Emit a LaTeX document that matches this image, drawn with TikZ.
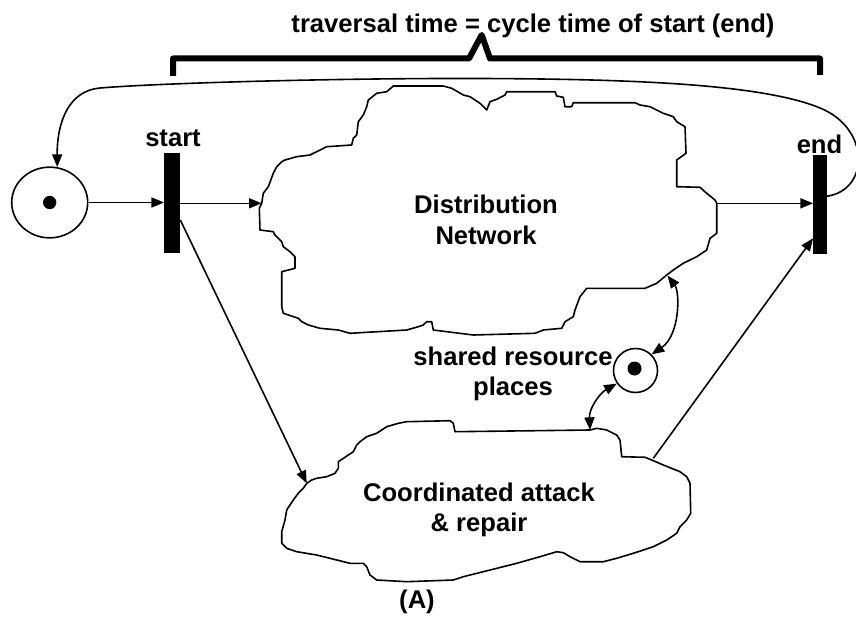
\documentclass[tikz,border=0pt]{standalone}
\usepackage{fontspec}
\setmainfont{Liberation Sans}
\usetikzlibrary{arrows.meta,shapes.geometric,calc}
\begin{document}
\begin{tikzpicture}[x=0.75pt,y=-0.75pt,
  every node/.style={inner sep=0pt},
  lbl/.style={font=\fontsize{19.2}{23}\selectfont\bfseries, align=center},
  edge/.style={line width=1.2pt},
  tip/.tip={Triangle[length=9.5pt,width=7.5pt]},
  arr/.style={edge,-tip},
  darr/.style={edge,tip-tip},
  cloudline/.style={line width=1.2pt, line join=round},
  bar/.style={rectangle, fill=black, draw=none, minimum height=74.5pt},
  place/.style={draw, line width=1.2pt},
  token/.style={circle, fill=black},
  brace/.style={line width=4.5pt, line join=round}
]
\useasboundingbox (0,0) rectangle (856,617);

% Petri net places and transitions
\node[place, ellipse, minimum width=57pt, minimum height=53pt] (src) at (49.7,202.5) {};
\node[token, minimum size=10pt] (srctok) at (49.7,202.5) {};
\node[bar, minimum width=11.8pt] (startbar) at (172.2,203) {};
\node[bar, minimum width=10pt] (endbar) at (820,204.2) {};
\node[place, circle, minimum size=33pt] (res) at (635.5,370.5) {};
\node[token, minimum size=10.5pt] (restok) at (634.5,368.5) {};

% Distribution network cloud
\draw[cloudline] (261.7,203.3) -- (263.3,193.3) -- (268.3,186.7) -- (273.3,173.3) -- (276.7,166.7)
  -- (281.7,161.7) -- (285,160) -- (296.7,156.7) -- (310,155) -- (326.7,146.7) -- (351.7,145)
  -- (353.3,138.3) -- (356.7,135) -- (358.3,121.7) -- (363.3,115) -- (366.7,106.7) -- (368.3,100)
  -- (376.7,93.3) -- (386.7,91.7) -- (393.3,86) -- (443.3,86) -- (451.7,88.3) -- (463.3,95)
  -- (470,96.7) -- (480,103.3) -- (486.7,110) -- (490,101.7) -- (496.7,99.3) -- (505,95)
  -- (506.7,91.7) -- (555,91.7) -- (556.7,96) -- (563.3,97.3) -- (565,106.7) -- (571.7,106.7)
  -- (573.3,102.7) -- (635,102.7) -- (640,105) -- (650,106.7) -- (663.3,113.3) -- (673.3,116.7)
  -- (676.7,121.7) -- (685,126.7) -- (686,153.3) -- (676.7,160) -- (676.7,186.7) -- (700,187.3)
  -- (706.7,193.3) -- (715,200) -- (716.7,203.3) -- (716.7,233.3) -- (710,238.3) -- (706.7,250)
  -- (696.7,256.7) -- (683.3,263.3) -- (673.3,270) -- (666.7,275) -- (656.7,283.3) -- (645,288.3)
  -- (586.7,288.3) -- (580,296.7) -- (575,310) -- (573.3,316.7) -- (565,321.7) -- (561.7,328.3)
  -- (543.3,330) -- (535,333.3) -- (473.3,335) -- (433.3,330) -- (431.7,321.7) -- (426.7,321.7)
  -- (423.3,325) -- (418.3,326.7) -- (406.7,330) -- (350,333.3) -- (338.3,330) -- (320,328.3)
  -- (308.3,325) -- (301.7,321.7) -- (298.3,318.3) -- (283.3,313.3) -- (281.7,306.7)
  -- (281.7,271.7) -- (295,268.3) -- (295,256.7) -- (290,251.7) -- (283.3,246.7) -- (281.7,241.7)
  -- (275,235) -- (273.3,231.7) -- (260,230) -- (259.3,208.3) -- cycle;
\coordinate (dnIn) at (261.7,203.3);
\coordinate (dnOut) at (716.7,203.3);
\coordinate (dnRes) at (667.5,275.5);

% Coordinated attack and repair cloud
\draw[cloudline] (306.7,483.3) -- (311.7,480) -- (316.7,478.3) -- (326.7,476.7) -- (335,473.3)
  -- (338.3,468.3) -- (338.3,461.7) -- (348.3,455) -- (353.3,451.7) -- (356.7,445) -- (360,441.7)
  -- (366.7,436.7) -- (376.7,433.3) -- (386.7,426.7) -- (398.3,423.3) -- (406.7,421.7)
  -- (450,420.7) -- (453.3,423.3) -- (455,431.7) -- (590,430) -- (596.7,428.3) -- (606.7,430)
  -- (616.7,435) -- (620,440) -- (621.7,456.7) -- (645,457.3) -- (651.7,460) -- (663.3,465)
  -- (680,471.7) -- (686.7,476.7) -- (690,483.3) -- (690.7,513.3) -- (686.7,520) -- (680,526.7)
  -- (676.7,533.3) -- (666.7,540) -- (653.3,546.7) -- (633.3,553.3) -- (616.7,558.3)
  -- (603.3,561.7) -- (580,561.7) -- (570,556.7) -- (563.3,552.7) -- (556.7,551.7) -- (540,556.7)
  -- (516.7,563.3) -- (483.3,571.7) -- (463.3,576.7) -- (453.3,580) -- (406.7,581.7) -- (376.7,580)
  -- (370,575) -- (366.7,566.7) -- (363.3,563.3) -- (350,563.3) -- (316.7,555) -- (296.7,551.7)
  -- (286.7,548.3) -- (281.7,543.3) -- (281.7,531.7) -- (285,520) -- (286.7,510) -- (290,505)
  -- (293.3,500) -- (298.3,493.3) -- (303.3,488.3) -- cycle;
\coordinate (caIn) at (306.7,483.3);
\coordinate (caRes) at (590,430);
\coordinate (caOut) at (653.3,458.3);

% Bracket over the whole net
\draw[brace] (173,76) -- (173,58.5) -- (469,58.5) -- (481.7,35) -- (490,58.5) -- (820,58.5) -- (820,75);

% Arcs
\draw[arr] (src.east) -- (startbar.west |- src.east);
\draw[arr] (startbar.east |- dnIn) -- (dnIn);
\draw[arr] (dnOut) -- (endbar.west |- dnOut);
\draw[arr] ([yshift=-12.75pt]startbar.east) -- (caIn);
\draw[arr] (caOut) -- ([yshift=-25.5pt]endbar.west);
\draw[arr] ([yshift=6pt]endbar.east) .. controls (870,190) and (870,128) .. (820,108)
  .. controls (760,83) and (620,79) .. (480,78.5)
  .. controls (340,78) and (160,83) .. (100,88)
  .. controls (70,90.5) and (57,120) .. (src.78);
\draw[darr] (res.45) .. controls (680,335) and (680,292) .. (dnRes);
\draw[darr] (res.215) .. controls (600,393) and (589,408) .. (caRes);

% Labels
\node[lbl, anchor=base] (title) at (533,33) {traversal time = cycle time of start (end)};
\node[lbl, anchor=base] (startlbl) at (173,146.7) {start};
\node[lbl, anchor=base] (endlbl) at (819.5,153) {end};
\node[lbl] (dnlbl) at (486,220) {Distribution\\Network};
\node[lbl] (calbl) at (479,510) {Coordinated attack\\\& repair};
\node[lbl] (reslbl) at (513,374) {shared resource\\places};
\node[lbl, anchor=base] (alabel) at (417,608) {(A)};
\end{tikzpicture}
\end{document}
